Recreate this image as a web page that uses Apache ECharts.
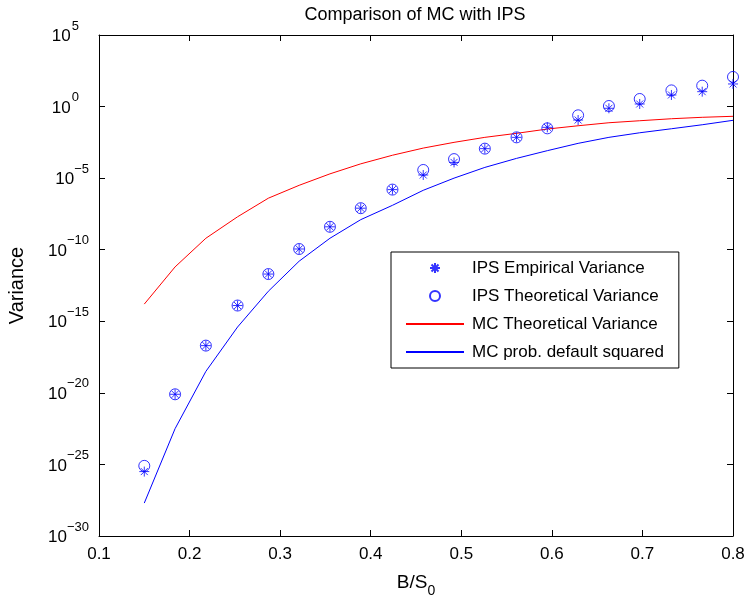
<!DOCTYPE html>
<html>
<head>
<meta charset="utf-8">
<title>Comparison of MC with IPS</title>
<script src="https://cdn.jsdelivr.net/npm/echarts@6/dist/echarts.min.js"></script>
<style>
  html, body { margin: 0; padding: 0; background: #fff; }
  #chart { width: 748px; height: 602px; }
</style>
</head>
<body>
<div id="chart"></div>
<script>
// B/S0 values of the 20 runs
const xValues = [0.15, 0.184, 0.218, 0.253, 0.287, 0.321, 0.355, 0.389, 0.424, 0.458,
  0.492, 0.526, 0.561, 0.595, 0.629, 0.663, 0.697, 0.732, 0.766, 0.8];

// variances, stored as log10 exponents
const ipsEmpiricalExp = [-25.5, -20.1, -16.7, -13.9, -11.7, -9.95, -8.4, -7.1, -5.8, -4.78,
  -3.9, -2.94, -2.15, -1.45, -0.94, -0.12, 0.18, 0.81, 1.04, 1.58];
const ipsTheoreticalExp = [-25.1, -20.1, -16.7, -13.9, -11.7, -9.95, -8.4, -7.1, -5.8, -4.43,
  -3.67, -2.94, -2.15, -1.52, -0.61, 0.04, 0.53, 1.13, 1.46, 2.07];
const mcTheoreticalExp = [-13.8, -11.2, -9.2, -7.7, -6.4, -5.5, -4.7, -4.0, -3.4, -2.9,
  -2.5, -2.15, -1.87, -1.57, -1.34, -1.13, -0.99, -0.85, -0.75, -0.68];
const mcDefaultSqExp = [-27.7, -22.5, -18.5, -15.4, -12.9, -10.8, -9.2, -7.9, -6.9, -5.85,
  -5.0, -4.25, -3.62, -3.08, -2.57, -2.15, -1.83, -1.55, -1.27, -0.96];

const seriesNames = ['IPS Empirical Variance', 'IPS Theoretical Variance',
  'MC Theoretical Variance', 'MC prob. default squared'];

// y axis range (powers of ten)
const yMinExp = -30;
const yMaxExp = 5;

const font = 'Liberation Sans, Arial, Helvetica, sans-serif';
const blue = '#0000ff';
const red = '#ff0000';
// MATLAB style asterisk (+ and x together)
const starPath = 'path://M0,-1L0,1M-1,0L1,0M-0.7,-0.7L0.7,0.7M-0.7,0.7L0.7,-0.7';

function toPairs(exps) {
  return xValues.map((x, i) => [x, Math.pow(10, exps[i])]);
}

// "10" with a raised exponent
function powLabel(e) {
  const sup = e < 0 ? 's' : 'p';
  return '{b|10}{' + sup + '|' + String(e).replace('-', '\u2212') + '}';
}
const powRich = {
  b: { fontSize: 17, fontFamily: font, color: '#000', padding: [3, 0, 0, 0] },
  s: { fontSize: 13, fontFamily: font, color: '#000', padding: [0, 0, 18, 0] },
  p: { fontSize: 13, fontFamily: font, color: '#000', padding: [0, 10, 18, 1] },
};

const chart = echarts.init(document.getElementById('chart'));

const axisCommon = {
  axisLine: { show: true, onZero: false, lineStyle: { color: '#000', width: 1 } },
  axisTick: { show: true, inside: true, length: 6, lineStyle: { color: '#000', width: 1 } },
  splitLine: { show: false },
  minorTick: { show: false },
};

// line entries in the legend: plain line, no marker
const lineLegendStyle = { color: 'none', borderWidth: 0, opacity: 0 };

const option = {
  backgroundColor: '#fff',
  animation: false,
  textStyle: { fontFamily: font },
  title: {
    text: 'Comparison of MC with IPS',
    left: 415,
    top: 6,
    padding: 0,
    textAlign: 'center',
    textStyle: { fontFamily: font, fontSize: 18, fontWeight: 'normal', color: '#000' },
  },
  grid: { left: 99, right: 15, top: 35, bottom: 66, containLabel: false, outerBoundsMode: 'none' },
  legend: {
    orient: 'vertical',
    left: 391,
    top: 252,
    padding: [7, 15, 7, 14],
    itemWidth: 58,
    itemHeight: 10,
    itemGap: 10,
    backgroundColor: '#fff',
    borderColor: '#000',
    borderWidth: 1,
    borderRadius: 0,
    textStyle: { fontFamily: font, fontSize: 17, color: '#000', lineHeight: 18, padding: [0, 0, 0, 3] },
    data: [
      { name: seriesNames[0] },
      { name: seriesNames[1] },
      { name: seriesNames[2], itemStyle: lineLegendStyle },
      { name: seriesNames[3], itemStyle: lineLegendStyle },
    ],
  },
  xAxis: [
    Object.assign({}, axisCommon, {
      type: 'value',
      min: 0.1,
      max: 0.8,
      interval: 0.1,
      position: 'bottom',
      axisLabel: {
        fontSize: 17, color: '#000', margin: 10, fontFamily: font,
        showMinLabel: true, showMaxLabel: true,
        formatter: (v) => v.toFixed(1),
      },
      name: '{n|B/S}{sub|0}',
      nameLocation: 'middle',
      nameGap: 32,
      nameMoveOverlap: false,
      nameTextStyle: {
        color: '#000',
        rich: {
          n: { fontSize: 19, fontFamily: font, color: '#000' },
          sub: { fontSize: 14, fontFamily: font, color: '#000', padding: [16, 0, 0, 0] },
        },
      },
    }),
    Object.assign({}, axisCommon, {
      type: 'value',
      min: 0.1,
      max: 0.8,
      interval: 0.1,
      position: 'top',
      axisLabel: { show: false },
    }),
  ],
  yAxis: [
    Object.assign({}, axisCommon, {
      type: 'log',
      logBase: 10,
      min: Math.pow(10, yMinExp),
      max: Math.pow(10, yMaxExp),
      interval: 5,
      position: 'left',
      axisLabel: {
        margin: 10,
        showMinLabel: true,
        showMaxLabel: true,
        hideOverlap: false,
        formatter: (v) => (v > 0 ? powLabel(Math.round(Math.log10(v))) : ''),
        rich: powRich,
      },
      name: 'Variance',
      nameLocation: 'middle',
      nameGap: 72,
      nameRotate: 90,
      nameMoveOverlap: false,
      nameTextStyle: { fontSize: 20, fontFamily: font, color: '#000' },
    }),
    Object.assign({}, axisCommon, {
      type: 'log',
      logBase: 10,
      min: Math.pow(10, yMinExp),
      max: Math.pow(10, yMaxExp),
      interval: 5,
      position: 'right',
      axisLabel: { show: false },
    }),
  ],
  series: [
    {
      name: seriesNames[0],
      type: 'scatter',
      data: toPairs(ipsEmpiricalExp),
      symbol: starPath,
      symbolSize: 10,
      itemStyle: { color: 'none', borderColor: blue, borderWidth: 1 },
      z: 4,
    },
    {
      name: seriesNames[1],
      type: 'scatter',
      data: toPairs(ipsTheoreticalExp),
      symbol: 'circle',
      symbolSize: 11,
      itemStyle: { color: 'none', borderColor: blue, borderWidth: 1 },
      z: 4,
    },
    {
      name: seriesNames[2],
      type: 'line',
      data: toPairs(mcTheoreticalExp),
      symbol: 'none',
      color: red,
      lineStyle: { color: red, width: 1 },
      z: 3,
    },
    {
      name: seriesNames[3],
      type: 'line',
      data: toPairs(mcDefaultSqExp),
      symbol: 'none',
      color: blue,
      lineStyle: { color: blue, width: 1 },
      z: 3,
    },
  ],
};

chart.setOption(option);

// the log scale rounds its 1e-30 end tick to 0 and drops that label,
// so put the bottom label back at the axis position of 1e-30
const bottomY = chart.convertToPixel({ yAxisIndex: 0 }, Math.pow(10, yMinExp));
const axisX = chart.convertToPixel({ xAxisIndex: 0 }, 0.1);
chart.setOption({
  graphic: [{
    type: 'text',
    x: axisX - 10,
    y: bottomY,
    style: {
      text: powLabel(yMinExp),
      rich: powRich,
      align: 'right',
      verticalAlign: 'middle',
      font: '17px ' + font,
    },
  }],
});

window.addEventListener('resize', () => {
  chart.resize();
});
</script>
</body>
</html>
